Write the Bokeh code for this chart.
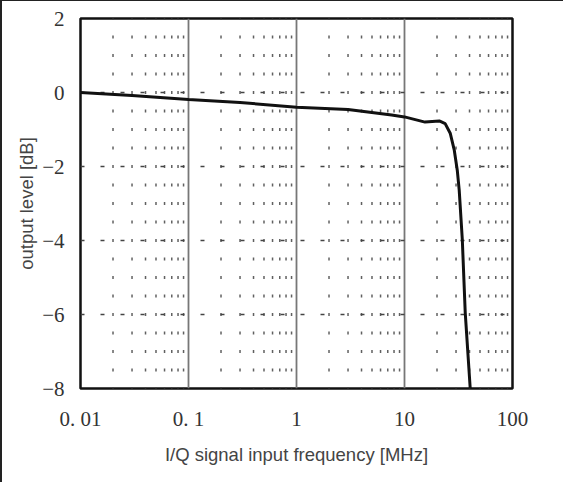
import numpy as np
from bokeh.plotting import figure
from bokeh.models import Range1d, FixedTicker, ColumnDataSource
from bokeh.embed import file_html
from bokeh.resources import INLINE

# data
freq_mhz = [0.01, 0.03, 0.1, 0.3, 1.0, 3.0, 7.6, 10.0, 15.5, 21.0, 23.8, 26.5,
            28.9, 30.8, 32.1, 34.3, 36.5, 40.6]
level_db = [0.0, -0.08, -0.19, -0.27, -0.40, -0.46, -0.61, -0.66, -0.80, -0.77,
            -0.84, -1.10, -1.56, -2.10, -2.64, -3.98, -5.95, -8.0]

x_ticks = [0.01, 0.1, 1, 10, 100]
x_tick_labels = ["0. 01", "0. 1", "1", "10", "100"]
y_ticks = [-8, -6, -4, -2, 0, 2]
y_tick_labels = ["\u22128", "\u22126", "\u22124", "\u22122", "0", "2"]

x_label = "I/Q signal input frequency [MHz]"
y_label = "output level [dB]"

p = figure(width=563, height=482, x_axis_type="log",
           x_range=Range1d(0.01, 100), y_range=Range1d(-8, 2),
           output_backend="svg", toolbar_location=None,
           min_border_left=78, min_border_right=53,
           min_border_top=17, min_border_bottom=95,
           background_fill_color="white", border_fill_color="white")
p.styles = {"border-left": "2px solid #222", "border-top": "1px solid #222"}

p.outline_line_color = "#111"
p.outline_line_width = 2.5

# grid
p.xgrid.ticker = FixedTicker(ticks=x_ticks)
p.xgrid.grid_line_color = "#777"
p.xgrid.grid_line_width = 1.8
p.ygrid.ticker = FixedTicker(ticks=y_ticks)
p.ygrid.grid_line_color = "#444"
p.ygrid.grid_line_width = 1.3
p.ygrid.grid_line_dash = "4 16"

# dotted minor grid
minor_x = [k * 10.0 ** d for d in range(-2, 2) for k in range(2, 10)]
minor_y = list(np.arange(-8, 2.01, 0.5))
gx, gy = np.meshgrid(minor_x, minor_y)
p.rect(x=gx.ravel(), y=gy.ravel(), width=1.5, height=3,
       width_units="screen", height_units="screen",
       fill_color="#444", line_color=None, fill_alpha=0.85)

# axes
for ax in (p.xaxis[0], p.yaxis[0]):
    ax.axis_line_color = None
    ax.major_tick_line_color = None
    ax.minor_tick_line_color = None
    ax.major_label_text_font = "Liberation Serif"
    ax.major_label_text_font_size = "21px"
    ax.major_label_text_color = "#333"
    ax.axis_label_text_font = "Liberation Sans"
    ax.axis_label_text_font_style = "normal"
    ax.axis_label_text_font_size = "18.5px"
    ax.axis_label_text_color = "#444"

p.xaxis.ticker = FixedTicker(ticks=x_ticks)
p.xaxis.major_label_overrides = {t: s for t, s in zip(x_ticks, x_tick_labels)}
p.xaxis.major_label_standoff = 12
p.xaxis.axis_label = x_label
p.xaxis.axis_label_standoff = 10

p.yaxis.ticker = FixedTicker(ticks=y_ticks)
p.yaxis.major_label_overrides = {t: s for t, s in zip(y_ticks, y_tick_labels)}
p.yaxis.major_label_standoff = 10
p.yaxis.axis_label = y_label
p.yaxis.axis_label_standoff = 2

src = ColumnDataSource(dict(f=freq_mhz, lvl=level_db))
p.line("f", "lvl", source=src, line_color="#111", line_width=3)

open("out.html", "w").write(file_html(p, INLINE))
